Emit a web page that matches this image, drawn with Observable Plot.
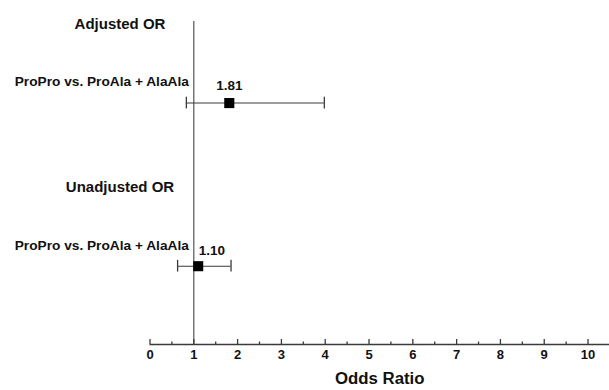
<!DOCTYPE html>
<html><head><meta charset="utf-8">
<script src="https://cdn.jsdelivr.net/npm/d3@7"></script>
<script src="https://cdn.jsdelivr.net/npm/@observablehq/plot@0.6"></script>
<style>body{margin:0;background:#fff} svg{display:block}</style>
</head><body><div id="chart"></div>
<script>
const groups = ["Adjusted OR", "Unadjusted OR"];
const comparisons = ["ProPro vs. ProAla + AlaAla", "ProPro vs. ProAla + AlaAla"];
const oddsRatios = [1.81, 1.10];
const ciLower = [0.83, 0.63];
const ciUpper = [3.98, 1.85];
const xTicks = [0, 1, 2, 3, 4, 5, 6, 7, 8, 9, 10];
const xMinorTicks = [0.5, 1.5, 2.5, 3.5, 4.5, 5.5, 6.5, 7.5, 8.5, 9.5];
const xLabel = "Odds Ratio";

const headers = groups.map((g, i) => ({text: g, row: 2 * i}));
const rows = groups.map((g, i) => ({
  label: comparisons[i], or: oddsRatios[i], lo: ciLower[i], hi: ciUpper[i], row: 2 * i + 1
}));
const yMax = 3.96;
const cap = 0.072;
const font = "'Liberation Sans', Arial, sans-serif";
const ink = "#111";
const lineCol = "#3a3a3a";
const nearRef = d => Math.abs(d.or - 1) < 0.35;

const chart = Plot.plot({
  width: 609, height: 390,
  marginLeft: 149.5, marginRight: 0, marginTop: 21, marginBottom: 46,
  style: {fontFamily: font, fontWeight: "bold", color: ink, background: "#fff"},
  x: {domain: [0, 10.49], axis: null},
  y: {domain: [0, yMax], reverse: true, axis: null},
  marks: [
    // reference line at OR = 1
    Plot.ruleX([1], {stroke: "#555", strokeWidth: 1.2}),
    // x axis line
    Plot.ruleY([yMax], {stroke: lineCol, strokeWidth: 1.3}),
    Plot.ruleX(xTicks, {x: d => d, insetTop: 318, stroke: lineCol, strokeWidth: 1.3}),
    Plot.ruleX(xMinorTicks, {x: d => d, insetTop: 320.5, stroke: lineCol, strokeWidth: 1.3}),
    Plot.text(xTicks, {x: d => d, frameAnchor: "bottom", dy: 14, text: d => String(d), fontSize: 13, fill: ink}),
    Plot.text([xLabel], {frameAnchor: "bottom", dy: 39, text: d => d, fontSize: 16.8, fill: ink}),
    // confidence intervals
    Plot.ruleY(rows, {y: "row", x1: "lo", x2: "hi", stroke: lineCol, strokeWidth: 1.1}),
    Plot.ruleX(rows, {x: "lo", y1: d => d.row - cap, y2: d => d.row + cap, stroke: lineCol, strokeWidth: 1.3}),
    Plot.ruleX(rows, {x: "hi", y1: d => d.row - cap, y2: d => d.row + cap, stroke: lineCol, strokeWidth: 1.3}),
    Plot.dot(rows, {x: "or", y: "row", symbol: "square", r: 5.7, fill: "#000", stroke: null}),
    // value labels
    Plot.text(rows.filter(d => !nearRef(d)), {x: "or", y: "row", dy: -17, text: d => d.or.toFixed(2), fontSize: 13.5, fill: ink}),
    Plot.text(rows.filter(nearRef), {x: 1, y: "row", dx: 5, dy: -16, textAnchor: "start", text: d => d.or.toFixed(2), fontSize: 13.5, fill: ink}),
    // row labels
    Plot.text(rows, {x: 1, y: "row", dx: -5, dy: -21, textAnchor: "end", text: "label", fontSize: 13.7, fill: ink}),
    // group headers
    Plot.text(headers, {y: "row", frameAnchor: "left", dx: -30, dy: 3, textAnchor: "middle", text: "text", fontSize: 15, fill: ink})
  ]
});
document.getElementById("chart").appendChild(chart);
</script>
</body></html>
